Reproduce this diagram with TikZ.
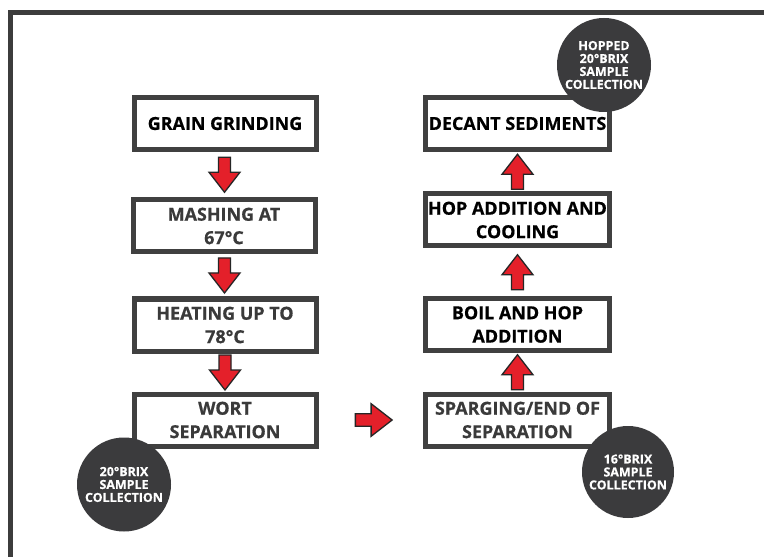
\documentclass[tikz,border=0pt]{standalone}
\usepackage{fontspec}
\setmainfont[BoldFeatures={FakeBold=0.6}]{Open Sans}
\usetikzlibrary{calc}
\definecolor{framecol}{HTML}{3C3C3C}
\definecolor{boxline}{HTML}{404040}
\definecolor{circcol}{HTML}{3B3B3D}
\definecolor{arrred}{HTML}{E4202A}
\definecolor{txtgray}{HTML}{3A3A3A}
\tikzset{
  stepbox/.style={draw=boxline, line width=5bp, fill=white, minimum width=182bp,
    minimum height=52bp, inner sep=0pt, align=center,
    font=\bfseries\fontsize{18}{23.5}\selectfont},
  graytext/.style={text=txtgray},
  sample/.style={circle, fill=circcol, minimum size=94bp, inner sep=0pt, align=center,
    text=white, font=\bfseries\fontsize{12.5}{13}\selectfont},
  barrow/.pic={\draw[fill=arrred, draw=black!85, line width=1.3bp, line join=miter]
    (-17.5,-6) -- (-2.5,-6) -- (-2.5,-15.5) -- (17.5,0) -- (-2.5,15.5) -- (-2.5,6) -- (-17.5,6) -- cycle;}
}
\begin{document}
\begin{tikzpicture}[x=1bp,y=-1bp]
\useasboundingbox[fill=white] (0,0) rectangle (764,557);
% frame
\draw[framecol, line width=5bp] (10.5,557) -- (10.5,12.5) -- (764,12.5);
% left column
\node[stepbox] (grind) at (225,123.5) {GRAIN GRINDING};
\node[stepbox, graytext] (mash) at (224,226) {MASHING AT\\67°C};
\node[stepbox, graytext] (heat) at (225,325) {HEATING UP TO\\78°C};
\node[stepbox, graytext] (wort) at (225,420) {WORT\\SEPARATION};
% right column
\node[stepbox, minimum width=184bp] (decant) at (517.5,123.5) {DECANT SEDIMENTS};
\node[stepbox, minimum width=184bp] (hop) at (517.5,220) {HOP ADDITION AND\\COOLING};
\node[stepbox, minimum width=184bp] (boil) at (517.5,324.5) {BOIL AND HOP\\ADDITION};
\node[stepbox, minimum width=184bp, graytext] (sparg) at (517.5,420) {SPARGING/END OF\\SEPARATION};
% arrows
\pic[rotate=-90] at ($(grind.south)!0.5!(mash.north)$) {barrow};
\pic[rotate=-90] at ($(mash.south)!0.5!(heat.north)$) {barrow};
\pic[rotate=-90] at ($(heat.south)!0.5!(wort.north)$) {barrow};
\pic[scale=1.05] at ($(wort.east)!0.5!(sparg.west)+(3,0)$) {barrow};
\pic[rotate=90] at ($(sparg.north)!0.5!(boil.south)$) {barrow};
\pic[rotate=90] at ($(boil.north)!0.5!(hop.south)$) {barrow};
\pic[rotate=90] at ($(hop.north)!0.5!(decant.south)$) {barrow};
% sample circles
\node[sample] (s20) at (124,484.5) {20°BRIX\\SAMPLE\\COLLECTION};
\node[sample] (shop) at (604,65) {HOPPED\\20°BRIX\\SAMPLE\\COLLECTION};
\node[sample, minimum size=92bp] (s16) at (628,472) {16°BRIX\\SAMPLE\\COLLECTION};
\end{tikzpicture}
\end{document}
